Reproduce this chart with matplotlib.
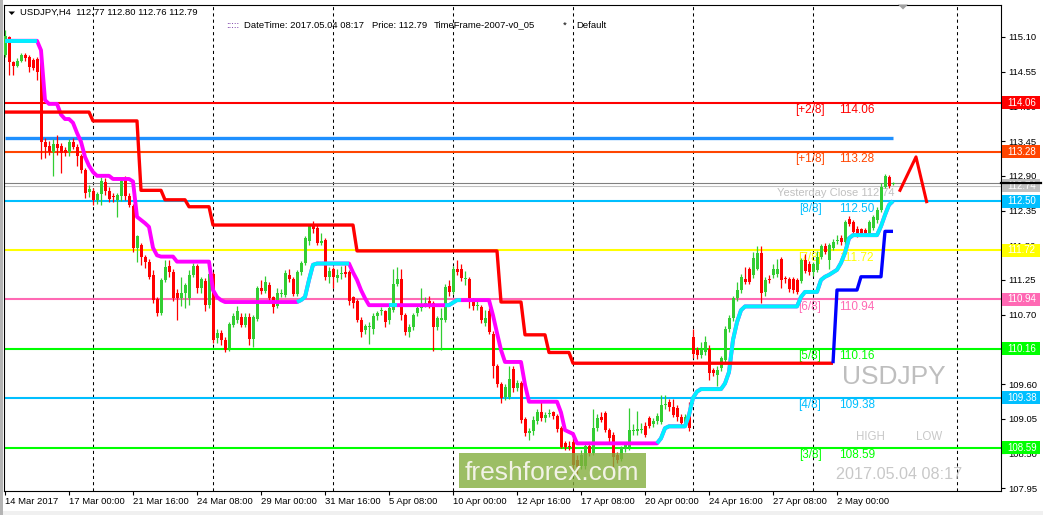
import numpy as np
import matplotlib.pyplot as plt
from matplotlib.patches import Rectangle, Polygon

plt.rcParams["font.family"] = ["Liberation Sans", "DejaVu Sans"]

W, H = 1043, 515

# H4 candles, bar 0 = 14 Mar 2017 08:00, last bar = 4 May 2017 08:00
opens = [
    114.82, 115.10, 114.70, 114.64, 114.72, 114.81, 114.78, 114.74, 114.75, 114.74,
    113.44, 113.38, 113.28, 113.41, 113.37, 113.31, 113.28, 113.44, 113.36, 113.21,
    112.99, 112.64, 112.66, 112.52, 112.61, 112.80, 112.66, 112.58, 112.52, 112.58,
    112.83, 112.58, 112.42, 111.75, 111.80, 111.62, 111.54, 111.33, 110.95, 110.73,
    111.25, 111.47, 111.38, 111.04, 110.96, 111.04, 110.96, 111.33, 111.47, 111.12,
    111.23, 110.85, 111.34, 110.33, 110.41, 110.30, 110.17, 110.54, 110.61, 110.66,
    110.54, 110.67, 110.31, 110.63, 111.13, 111.08, 111.17, 110.98, 110.83, 111.03,
    111.01, 111.33, 111.27, 111.03, 111.37, 111.52, 111.87, 112.10, 112.07, 111.84,
    111.88, 111.29, 111.42, 111.28, 111.34, 111.38, 111.37, 110.98, 110.91, 110.62,
    110.45, 110.50, 110.48, 110.68, 110.75, 110.75, 110.62, 110.78, 111.18, 111.27,
    110.69, 110.43, 110.51, 110.72, 110.80, 110.86, 110.92, 110.88, 110.51, 110.62,
    110.62, 111.15, 111.06, 111.43, 111.42, 111.27, 111.26, 110.93, 110.84, 110.82,
    110.56, 110.75, 110.40, 109.88, 109.60, 109.40, 109.40, 109.84, 109.53, 109.61,
    109.04, 108.82, 108.85, 109.01, 109.15, 109.06, 109.12, 109.15, 109.09, 108.90,
    108.66, 108.62, 108.68, 108.40, 108.30, 108.30, 108.62, 108.51, 108.90, 109.08,
    109.14, 108.87, 108.79, 108.47, 108.42, 108.57, 108.60, 108.86, 108.86, 108.87,
    108.93, 109.06, 108.96, 109.01, 109.00, 109.26, 109.32, 109.24, 109.22, 109.08,
    108.98, 109.11, 110.34, 110.14, 110.06, 110.10, 110.16, 109.82, 109.74, 109.85,
    109.98, 110.47, 110.64, 110.96, 111.09, 111.27, 111.43, 111.33, 111.43, 111.68,
    111.06, 111.27, 111.33, 111.35, 111.58, 111.27, 111.27, 111.27, 111.25, 111.24,
    111.56, 111.51, 111.38, 111.41, 111.62, 111.79, 111.56, 111.76, 111.86, 111.92,
    111.85, 112.22, 112.17, 112.06, 112.05, 112.04, 111.98, 112.08, 112.20, 112.36,
    112.73, 112.88, 112.77,
]
highs = [
    115.21, 115.12, 114.72, 114.76, 114.84, 114.84, 114.82, 114.77, 114.78, 114.78,
    113.50, 113.45, 113.48, 113.54, 113.42, 113.35, 113.48, 113.50, 113.40, 113.25,
    113.02, 112.75, 112.70, 112.64, 112.88, 112.87, 112.72, 112.62, 112.62, 112.86,
    112.90, 112.62, 112.46, 111.96, 111.84, 111.65, 111.58, 111.40, 110.98, 111.28,
    111.56, 111.56, 111.42, 111.10, 111.30, 111.20, 111.40, 111.52, 111.50, 111.30,
    111.28, 111.36, 111.38, 110.48, 110.45, 110.34, 110.58, 110.72, 110.83, 110.72,
    110.72, 110.72, 110.70, 111.16, 111.25, 111.32, 111.22, 111.00, 111.12, 111.10,
    111.40, 111.42, 111.30, 111.40, 111.55, 111.94, 112.14, 112.18, 112.12, 111.99,
    111.92, 111.45, 111.45, 111.42, 111.47, 111.48, 111.40, 111.00, 110.95, 110.66,
    110.55, 110.58, 110.72, 110.76, 110.82, 110.78, 110.84, 111.42, 111.45, 111.43,
    110.72, 110.55, 110.72, 110.85, 111.12, 110.98, 111.00, 110.92, 110.68, 110.80,
    111.18, 111.25, 111.47, 111.57, 111.50, 111.39, 111.30, 110.96, 110.95, 110.86,
    110.77, 110.80, 110.44, 109.92, 109.63, 109.60, 109.88, 109.88, 109.66, 109.65,
    109.08, 108.90, 109.10, 109.20, 109.35, 109.16, 109.20, 109.18, 109.12, 108.94,
    108.70, 108.70, 108.75, 108.48, 108.55, 108.66, 108.66, 109.21, 109.12, 109.16,
    109.18, 108.90, 108.84, 108.52, 108.62, 108.68, 109.22, 108.96, 109.17, 108.98,
    109.00, 109.10, 109.06, 109.14, 109.42, 109.43, 109.36, 109.36, 109.26, 109.12,
    109.12, 109.32, 110.48, 110.18, 110.26, 110.36, 110.22, 109.86, 109.88, 110.05,
    110.52, 110.70, 111.00, 111.22, 111.34, 111.45, 111.46, 111.70, 111.78, 111.78,
    111.30, 111.33, 111.50, 111.58, 111.62, 111.32, 111.30, 111.30, 111.28, 111.60,
    111.66, 111.55, 111.54, 111.71, 111.82, 111.84, 111.84, 111.90, 111.96, 111.96,
    112.20, 112.26, 112.20, 112.10, 112.08, 112.08, 112.20, 112.28, 112.41, 112.78,
    112.93, 112.92, 112.80,
]
lows = [
    114.78, 114.50, 114.50, 114.62, 114.70, 114.72, 114.55, 114.58, 114.42, 113.17,
    113.18, 113.23, 112.89, 113.23, 112.95, 113.21, 113.22, 113.32, 113.05, 112.95,
    112.55, 112.57, 112.43, 112.45, 112.44, 112.60, 112.49, 112.48, 112.24, 112.50,
    112.52, 112.40, 111.70, 111.54, 111.48, 111.44, 111.26, 110.88, 110.68, 110.70,
    111.22, 111.30, 110.92, 110.61, 110.83, 110.80, 110.85, 111.30, 111.05, 111.05,
    110.76, 110.80, 110.25, 110.25, 110.22, 110.10, 110.12, 110.50, 110.57, 110.50,
    110.50, 110.22, 110.19, 110.60, 111.02, 111.04, 110.88, 110.72, 110.80, 110.98,
    110.98, 111.22, 111.00, 111.00, 111.33, 111.48, 111.80, 112.00, 111.80, 111.80,
    111.25, 111.20, 111.12, 111.22, 111.27, 111.30, 110.85, 110.80, 110.58, 110.35,
    110.40, 110.24, 110.40, 110.62, 110.70, 110.51, 110.55, 110.74, 111.15, 110.62,
    110.38, 110.35, 110.46, 110.68, 110.75, 110.82, 110.80, 110.13, 110.45, 110.14,
    110.58, 111.00, 111.02, 111.33, 111.24, 111.17, 110.80, 110.78, 110.78, 110.57,
    110.52, 110.40, 109.70, 109.55, 109.30, 109.35, 109.36, 109.48, 109.49, 108.98,
    108.78, 108.71, 108.80, 108.97, 109.02, 109.00, 109.08, 109.05, 108.84, 108.58,
    108.55, 108.56, 108.22, 108.18, 108.25, 108.26, 108.46, 108.47, 108.86, 109.00,
    108.84, 108.68, 108.29, 108.35, 108.38, 108.52, 108.56, 108.80, 108.80, 108.82,
    108.76, 108.90, 108.92, 108.97, 108.96, 109.20, 109.18, 109.07, 109.02, 108.94,
    108.94, 108.86, 110.02, 110.00, 110.02, 110.06, 109.66, 109.72, 109.57, 109.80,
    109.95, 110.42, 110.60, 110.92, 111.05, 111.18, 111.18, 111.28, 111.40, 110.88,
    111.00, 111.20, 111.28, 111.30, 111.12, 111.20, 111.06, 111.05, 111.02, 111.20,
    111.36, 111.33, 111.32, 111.38, 111.58, 111.66, 111.42, 111.72, 111.82, 111.80,
    111.80, 112.10, 111.97, 111.93, 111.96, 111.95, 111.94, 112.04, 112.16, 112.32,
    112.70, 112.70, 112.76,
]
closes = [
    115.12, 114.70, 114.64, 114.72, 114.81, 114.76, 114.62, 114.61, 114.55, 113.44,
    113.36, 113.28, 113.40, 113.34, 113.26, 113.26, 113.44, 113.36, 113.21, 112.99,
    112.63, 112.69, 112.52, 112.61, 112.82, 112.66, 112.54, 112.56, 112.60, 112.81,
    112.58, 112.44, 111.75, 111.94, 111.62, 111.54, 111.30, 110.93, 110.73, 111.25,
    111.46, 111.38, 110.96, 110.96, 111.04, 111.17, 111.33, 111.47, 111.12, 111.26,
    110.85, 111.34, 110.30, 110.41, 110.30, 110.14, 110.55, 110.68, 110.75, 110.54,
    110.67, 110.31, 110.66, 111.13, 111.08, 111.22, 110.96, 110.82, 111.04, 111.05,
    111.36, 111.27, 111.03, 111.37, 111.52, 111.91, 112.10, 112.06, 111.84, 111.87,
    111.29, 111.39, 111.29, 111.33, 111.36, 111.35, 110.91, 110.88, 110.62, 110.43,
    110.52, 110.50, 110.68, 110.73, 110.75, 110.59, 110.80, 111.18, 111.27, 110.69,
    110.43, 110.51, 110.69, 110.80, 110.86, 110.87, 110.85, 110.51, 110.64, 110.64,
    111.14, 111.06, 111.43, 111.38, 111.28, 111.28, 110.96, 110.83, 110.86, 110.61,
    110.64, 110.43, 109.88, 109.60, 109.38, 109.56, 109.68, 109.53, 109.61, 109.03,
    108.82, 108.85, 109.03, 109.15, 109.06, 109.11, 109.14, 109.09, 108.88, 108.61,
    108.61, 108.60, 108.32, 108.28, 108.48, 108.62, 108.51, 108.90, 109.06, 109.03,
    108.87, 108.74, 108.45, 108.40, 108.58, 108.63, 108.87, 108.87, 108.88, 108.88,
    108.80, 108.93, 109.01, 109.09, 109.27, 109.27, 109.24, 109.11, 109.07, 108.98,
    109.08, 108.90, 110.08, 110.06, 110.14, 110.27, 109.77, 109.77, 109.83, 110.01,
    110.47, 110.64, 110.96, 111.09, 111.29, 111.22, 111.22, 111.59, 111.68, 111.04,
    111.25, 111.25, 111.42, 111.43, 111.25, 111.26, 111.11, 111.09, 111.06, 111.56,
    111.39, 111.38, 111.50, 111.62, 111.79, 111.70, 111.80, 111.85, 111.88, 111.85,
    112.17, 112.14, 112.01, 111.98, 112.00, 111.99, 112.17, 112.24, 112.36, 112.73,
    112.89, 112.74, 112.79,
]

date_label_bars = [0, 16, 32, 48, 64, 80, 96, 112, 128, 144, 160, 176, 192, 208]
date_labels = ["14 Mar 2017", "17 Mar 00:00", "21 Mar 16:00", "24 Mar 08:00",
               "29 Mar 00:00", "31 Mar 16:00", "5 Apr 08:00", "10 Apr 00:00",
               "12 Apr 16:00", "17 Apr 08:00", "20 Apr 00:00", "24 Apr 16:00",
               "27 Apr 08:00", "2 May 00:00"]
week_grid_bars = [22, 52, 82, 112, 142, 172, 202, 238]
price_ticks = [115.10, 114.55, 114.00, 113.45, 112.90, 112.35, 111.80,
               111.25, 110.70, 110.15, 109.60, 109.05, 108.50, 107.95]

murrey_names = ["[+2/8]", "[+1/8]", "[8/8]", "[7/8]", "[6/8]", "[5/8]", "[4/8]", "[3/8]"]
murrey_levels = [114.06, 113.28, 112.50, 111.72, 110.94, 110.16, 109.38, 108.59]
murrey_colors = ["#FF0000", "#FF4500", "#00BFFF", "#FFFF00", "#FF69B4",
                 "#00FF00", "#00BFFF", "#00FF00"]

# trend line (bar where level starts, level); cyan where trend is up
trend_steps = [(0, 115.04), (9, 114.89), (10, 114.10), (11, 114.04), (14, 113.87),
               (15, 113.80), (17, 113.74), (18, 113.58), (19, 113.44), (20, 113.20),
               (21, 113.06), (22, 112.96), (23, 112.90), (27, 112.85), (32, 112.81),
               (33, 112.25), (34, 112.20), (35, 112.15), (36, 112.09), (37, 111.76),
               (38, 111.64), (39, 111.62), (43, 111.54), (52, 111.09), (53, 110.98),
               (54, 110.93), (55, 110.90), (74, 110.93), (75, 110.98), (76, 111.25),
               (77, 111.49), (78, 111.51), (87, 111.37), (88, 111.25), (89, 111.09),
               (90, 110.96), (91, 110.85), (112, 110.89), (113, 110.93), (122, 110.69),
               (123, 110.41), (124, 110.14), (125, 109.95), (130, 109.59), (131, 109.32),
               (139, 109.15), (140, 108.87), (141, 108.84), (142, 108.81), (143, 108.66),
               (164, 108.74), (165, 108.90), (166, 108.93), (171, 109.11), (172, 109.38),
               (173, 109.48), (174, 109.52), (180, 109.61), (181, 109.79), (182, 110.30),
               (183, 110.58), (184, 110.77), (185, 110.83), (199, 110.98), (200, 111.06),
               (204, 111.25), (205, 111.30), (206, 111.33), (207, 111.37), (208, 111.41),
               (209, 111.52), (210, 111.68), (211, 111.91), (212, 111.96), (219, 112.10),
               (220, 112.28), (221, 112.44), (222, 112.50)]
trend_up_ranges = [(0, 8), (73, 86), (96, 98), (110, 114), (163, 222)]

stop_steps = [(0, 113.91), (22, 113.77), (34, 112.67), (40, 112.52), (46, 112.41),
              (52, 112.12), (88, 111.71), (124, 110.90), (130, 110.38), (136, 110.10),
              (142, 109.93)]
stop_last = 207
blue_steps = [(207, 109.93), (208, 111.09), (214, 111.30), (220, 112.02)]
blue_last = 222

resistance_level = 113.50
yesterday_close = 112.74
last_price = 112.79

zigzag_bars = [223.75, 227.75, 230.4]
zigzag_prices = [112.67, 113.20, 112.49]

tag_values = [114.06, 113.28, 112.74, 112.50, 111.72, 110.94, 110.16, 109.38, 108.59]
tag_colors = ["#FF0000", "#FF4500", "#C0C0C0", "#00BFFF", "#FFFF00", "#FF69B4",
              "#00FF00", "#00BFFF", "#00FF00"]


def expand(steps, last):
    starts = [b for b, _ in steps] + [last + 1]
    vals = []
    for i, (b, v) in enumerate(steps):
        vals += [v] * (starts[i + 1] - b)
    return np.arange(steps[0][0], last + 1), np.array(vals)


def fx(px):
    return px / W


def fy(py):
    return 1 - py / H


fig = plt.figure(figsize=(W / 100, H / 100), dpi=100)
fig.patch.set_facecolor("white")
ax = fig.add_axes([4 / W, 1 - 491 / H, 997 / W, 486.5 / H])
ax.set_xlim(-0.25, 249)
ax.set_ylim(107.905, 115.615)
for s in ax.spines.values():
    s.set_linewidth(0.8)

# weekly grid
ax.vlines(week_grid_bars, 107.905, 115.615, colors="black", linewidth=0.75,
          linestyles=(0, (3, 3)), zorder=1)

# levels
for name, lvl, col in zip(murrey_names, murrey_levels, murrey_colors):
    ax.axhline(lvl, color=col, lw=1.5, zorder=2)
    ax.annotate(name, (201.25, lvl), xytext=(0, -5.4), textcoords="offset points",
                ha="center", va="center", color=col, fontsize=8.5, zorder=2.5)
    ax.annotate(f"{lvl:.2f}", (208.5, lvl), xytext=(0, -5.4), textcoords="offset points",
                ha="left", va="center", color=col, fontsize=8.5, zorder=2.5)

ax.plot([0, 222], [resistance_level] * 2, color="#1E90FF", lw=2.4,
        solid_capstyle="butt", zorder=2)
ax.axhline(last_price, color="#808080", lw=0.8, zorder=2)
ax.axhline(yesterday_close, color="#C0C0C0", lw=0.8, zorder=2)
ax.annotate(f"Yesterday Close {yesterday_close:.2f}", (193, yesterday_close),
            xytext=(0, -5.0), textcoords="offset points", ha="left", va="center",
            color="#C0C0C0", fontsize=8, zorder=2.5)

# candles
x = np.arange(len(closes))
o, h, l, c = map(np.array, (opens, highs, lows, closes))
cc = np.where(c >= o, "#32CD32", "#FF0000")
ax.vlines(x, l, h, colors=cc, linewidth=0.9, zorder=3)
ax.bar(x, np.maximum(np.abs(c - o), 0.018), bottom=np.minimum(o, c), width=0.75,
       color=cc, linewidth=0, zorder=3)

# indicators
tx, tv = expand(trend_steps, 222)
ax.plot(tx, tv, color="#FF00FF", lw=2.8, solid_capstyle="butt", zorder=4)
for a, b in trend_up_ranges:
    ax.plot(tx[a:b + 1], tv[a:b + 1], color="#00F0FF", lw=2.8,
            solid_capstyle="butt", zorder=4)
sx, sv = expand(stop_steps, stop_last)
ax.plot(sx, sv, color="#FF0000", lw=2.4, solid_capstyle="butt", zorder=4)
bx, bv = expand(blue_steps, blue_last)
ax.plot(bx, bv, color="#0000FF", lw=2.4, solid_capstyle="butt", zorder=4)
ax.plot(zigzag_bars, zigzag_prices, color="#FF0000", lw=2.2, zorder=4)

# axes ticks
ax.yaxis.tick_right()
ax.set_yticks(price_ticks)
ax.set_yticklabels([f"{p:.2f}" for p in price_ticks])
ax.tick_params(axis="y", direction="out", length=3, width=0.8, pad=2, labelsize=6.8)
ax.set_xticks(date_label_bars)
ax.set_xticklabels(date_labels, ha="left")
ax.tick_params(axis="x", direction="out", length=3, width=0.8, pad=1.5, labelsize=6.8)

# price tags on the axis
ytr = ax.get_yaxis_transform()
for val, col in zip(tag_values, tag_colors):
    ax.add_patch(Rectangle((1.0015, val - 0.103), 0.0375, 0.206, transform=ytr,
                           fc=col, ec="none", clip_on=False, zorder=10))
    ax.text(1.0065, val, f"{val:.2f}", transform=ytr, ha="left", va="center",
            color="white", fontsize=7, clip_on=False, zorder=11)
ax.plot([1.0, 1.04], [last_price] * 2, transform=ytr, color="black", lw=1.6,
        clip_on=False, zorder=11)

# watermarks
ax.text(0.8405, 0.235, "USDJPY", transform=ax.transAxes, color="#BEBEBE",
        fontsize=19, ha="left", va="center", zorder=5)
ax.text(0.8545, 0.111, "HIGH", transform=ax.transAxes, color="#C8C8C8",
        fontsize=8.3, ha="left", va="center", zorder=5)
ax.text(0.9145, 0.111, "LOW", transform=ax.transAxes, color="#C8C8C8",
        fontsize=8.3, ha="left", va="center", zorder=5)
ax.text(0.8345, 0.033, "2017.05.04 08:17", transform=ax.transAxes, color="#C8C8C8",
        fontsize=11.6, ha="left", va="center", zorder=5)
ax.add_patch(Rectangle((0.4564, 0.0062), 0.1876, 0.0726, transform=ax.transAxes,
                       fc="#84AE3D", ec="none", alpha=0.8, zorder=6))
ax.text(0.5497, 0.0216, "freshforex.com", transform=ax.transAxes, color="#F2F2E6",
        fontsize=19, ha="center", va="baseline", zorder=7)

# header
fig.patches.append(Polygon([(fx(8.5), fy(11.5)), (fx(15), fy(11.5)), (fx(11.75), fy(15))],
                           closed=True, fc="black", ec="none", transform=fig.transFigure))
fig.text(fx(20), fy(12.7), "USDJPY,H4  112.77 112.80 112.76 112.79", fontsize=6.8,
         va="center", ha="left")
fig.text(fx(226), fy(25), ":::::", fontsize=6.8, va="center", color="#7030A0")
fig.text(fx(244), fy(25), "DateTime: 2017.05.04 08:17", fontsize=6.8, va="center")
fig.text(fx(372), fy(25), "Price: 112.79", fontsize=6.8, va="center")
fig.text(fx(434), fy(25), "TimeFrame-2007-v0_05", fontsize=6.8, va="center")
fig.text(fx(563), fy(25), "*", fontsize=6.8, va="center")
fig.text(fx(576), fy(25), "Default", fontsize=6.8, va="center")
fig.patches.append(Polygon([(fx(898), fy(4.5)), (fx(908), fy(4.5)), (fx(903), fy(9.5))],
                           closed=True, fc="#A0A0A0", ec="none", transform=fig.transFigure))
fig.patches.append(Rectangle((0, 0), 1, 4 / H, fc="#F0F0F0", ec="none",
                             transform=fig.transFigure))
fig.patches.append(Rectangle((0, 0), 2.5 / W, 1, fc="#B4B4B4", ec="none",
                             transform=fig.transFigure))

fig.savefig("out.png", dpi=100)
